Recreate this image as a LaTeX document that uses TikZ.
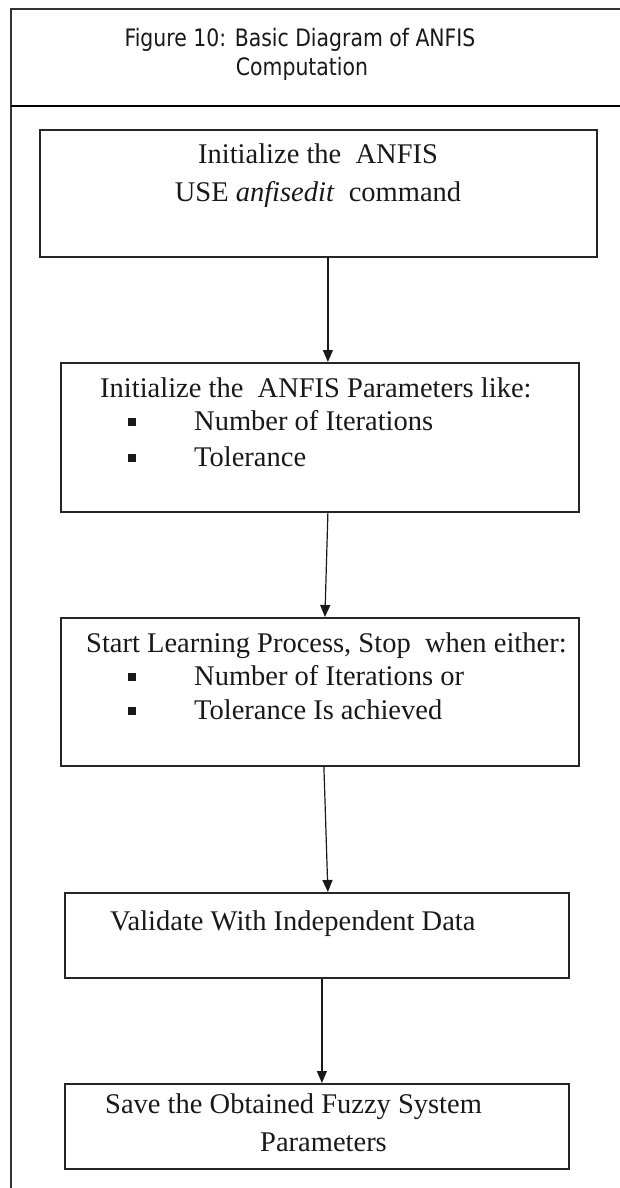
\documentclass[tikz,border=0pt]{standalone}
\usepackage{fontspec}
\usepackage{graphicx}
\setmainfont{Liberation Serif}
\newfontfamily\headfont{DejaVu Sans}
\usetikzlibrary{arrows.meta}
% a list row: square bullet, then the item text at a fixed indent
\newcommand\bulletrow[1]{\makebox[66pt][l]{\rule[4pt]{8pt}{8pt}}#1}
\begin{document}
\begin{tikzpicture}[x=1pt,y=-1pt,
  frameline/.style={draw=black!80, line width=1.6pt},
  stepbox/.style={draw=black!85, line width=1.8pt, anchor=north west, inner sep=0pt},
  flow/.style={-{Triangle[length=12pt,width=10pt]}, line width=1.2pt, draw=black!90},
  body/.style={font=\fontsize{28.5}{33}\selectfont, inner sep=0pt, text=black!90},
  headtxt/.style={font=\headfont\fontsize{24}{29}\selectfont, inner sep=0pt, anchor=base, text=black!90}]
\useasboundingbox (0,0) rectangle (620,1188);
\fill[white] (0,0) rectangle (620,1188);

% outer frame and caption row
\draw[frameline] (620,9) -- (11,9) -- (11,1188);
\draw[black, line width=2.6pt] (11,106) -- (620,106);
\node[headtxt] (cap1) at (300,47) {\scalebox{0.85}[1]{Figure 10: Basic Diagram of ANFIS}};
\node[headtxt] (cap2) at (302,76) {\scalebox{0.85}[1]{Computation}};

% process boxes
\node[stepbox, minimum width=557pt, minimum height=127pt] (b1) at (39,129) {};
\node[stepbox, minimum width=518pt, minimum height=149pt] (b2) at (60,362) {};
\node[stepbox, minimum width=518pt, minimum height=148pt] (b3) at (60,617) {};
\node[stepbox, minimum width=504pt, minimum height=85pt]  (b4) at (64,892) {};
\node[stepbox, minimum width=504pt, minimum height=85pt]  (b5) at (64,1083) {};

% box 1 text
\node[body, anchor=base] (t1a) at (318,163) {Initialize the\ \ ANFIS};
\node[body, anchor=base] (t1b) at (318,201) {USE \textit{anfisedit}\ \ command};

% box 2 text
\node[body, anchor=base west] (t2a) at (100,397) {Initialize the\ \ ANFIS Parameters like:};
\node[body, anchor=base west] (t2b) at (128,430) {\bulletrow{Number of Iterations}};
\node[body, anchor=base west] (t2c) at (128,466) {\bulletrow{Tolerance}};

% box 3 text
\node[body, anchor=base west] (t3a) at (86,652) {Start Learning Process, Stop\ \ when either:};
\node[body, anchor=base west] (t3b) at (128,685) {\bulletrow{Number of Iterations or}};
\node[body, anchor=base west] (t3c) at (128,719) {\bulletrow{Tolerance Is achieved}};

% box 4 text
\node[body, anchor=base west] (t4a) at (110,930) {Validate With Independent Data};

% box 5 text
\node[body, anchor=base west] (t5a) at (105,1113) {Save the Obtained Fuzzy System};
\node[body, anchor=base west] (t5b) at (260,1151) {Parameters};

% connectors
\draw[flow] ([xshift=9.5pt]b1.south) -- ([xshift=8pt]b2.north);
\draw[flow] ([xshift=8pt]b2.south) -- ([xshift=5pt]b3.north);
\draw[flow] ([xshift=4pt]b3.south) -- ([xshift=11pt]b4.north);
\draw[flow] ([xshift=5pt]b4.south) -- ([xshift=5pt]b5.north);
\end{tikzpicture}
\end{document}
